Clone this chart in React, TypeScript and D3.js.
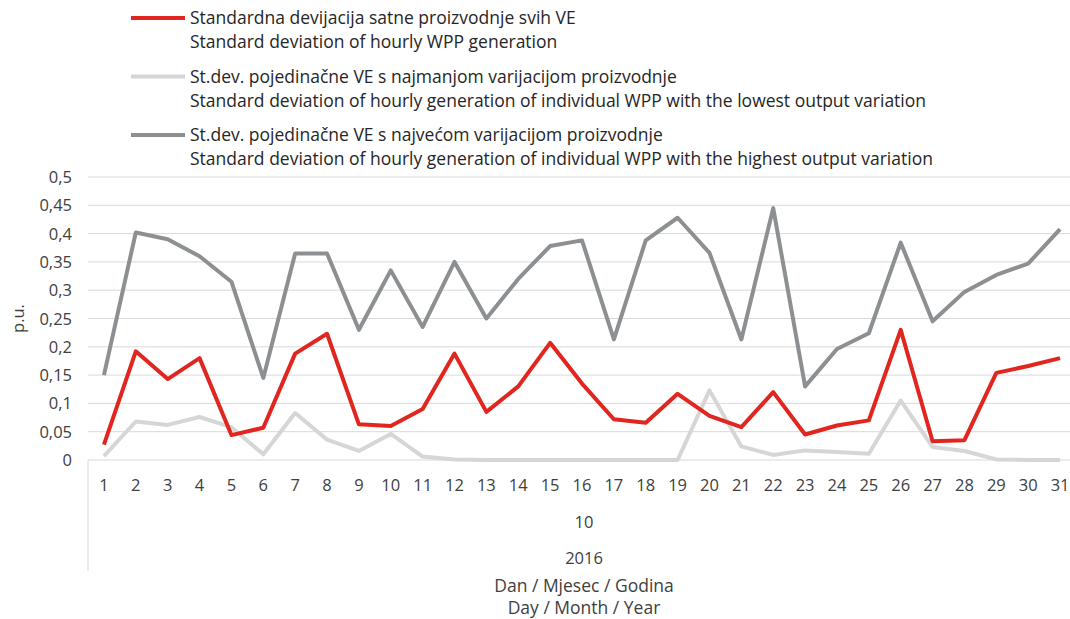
import React from "react";
import * as d3 from "d3";

const days = Array.from({ length: 31 }, (_, i) => String(i + 1));
const redSeries = [0.027, 0.192, 0.143, 0.18, 0.044, 0.057, 0.188, 0.223, 0.063, 0.06, 0.09, 0.188, 0.085, 0.13, 0.207, 0.135, 0.072, 0.066, 0.117, 0.078, 0.058, 0.12, 0.045, 0.061, 0.07, 0.23, 0.033, 0.035, 0.154, 0.166, 0.18];
const lowSeries = [0.007, 0.068, 0.062, 0.076, 0.058, 0.01, 0.083, 0.036, 0.016, 0.046, 0.006, 0.001, 0, 0, 0, 0, 0, 0, 0, 0.123, 0.024, 0.009, 0.017, 0.014, 0.011, 0.105, 0.023, 0.016, 0.001, 0, 0];
const highSeries = [0.15, 0.402, 0.39, 0.36, 0.315, 0.145, 0.365, 0.365, 0.23, 0.335, 0.235, 0.35, 0.25, 0.32, 0.378, 0.388, 0.213, 0.388, 0.428, 0.366, 0.213, 0.445, 0.13, 0.196, 0.224, 0.384, 0.245, 0.297, 0.327, 0.347, 0.408];
const yTicks = [0, 0.05, 0.1, 0.15, 0.2, 0.25, 0.3, 0.35, 0.4, 0.45, 0.5];
const legendItems = [
  { hr: "Standardna devijacija satne proizvodnje svih VE", en: "Standard deviation of hourly WPP generation", color: "#e0261f" },
  { hr: "St.dev. pojedinačne VE s najmanjom varijacijom proizvodnje", en: "Standard deviation of hourly generation of individual WPP with the lowest output variation", color: "#d5d6d6" },
  { hr: "St.dev. pojedinačne VE s najvećom varijacijom proizvodnje", en: "Standard deviation of hourly generation of individual WPP with the highest output variation", color: "#8d9092" },
];
const monthLabel = "10";
const yearLabel = "2016";
const axisTitle1 = "Dan / Mjesec / Godina";
const axisTitle2 = "Day / Month / Year";
const yTitle = "p.u.";

const W = 1070, H = 619;
const left = 88, right = 1076, top = 177, bottom = 460;
const font = "'Open Sans', sans-serif";

export default function App() {
  const x = d3.scaleBand<string>().domain(days).range([left, right]);
  const y = d3.scaleLinear().domain([0, 0.5]).range([bottom, top]);
  const line = d3.line<number>()
    .x((_, i) => (x(days[i]) as number) + x.bandwidth() / 2)
    .y((d) => y(d));
  const series = [
    { data: redSeries, color: legendItems[0].color },
    { data: lowSeries, color: legendItems[1].color },
    { data: highSeries, color: legendItems[2].color },
  ];
  const drawOrder = [1, 2, 0];
  return (
    <svg width={W} height={H} style={{ position: "absolute", left: 0, top: 0, fontFamily: font }}>
      <rect width={W} height={H} fill="#fff" />
      {yTicks.map((t) => (
        <g key={t}>
          <line x1={left} x2={W} y1={y(t)} y2={y(t)} stroke="#d9d9d9" strokeWidth={1} />
          <text x={72} y={y(t) + 6} textAnchor="end" fontSize={16.5} fill="#404040">
            {String(t).replace(".", ",")}
          </text>
        </g>
      ))}
      <line x1={left} x2={left} y1={bottom} y2={571} stroke="#d9d9d9" strokeWidth={1} />
      <text transform={`translate(24,${(top + bottom) / 2}) rotate(-90)`} textAnchor="middle" fontSize={16.5} fill="#404040">{yTitle}</text>
      {days.map((d) => (
        <text key={d} x={(x(d) as number) + x.bandwidth() / 2} y={491} textAnchor="middle" fontSize={16.5} fill="#404040">{d}</text>
      ))}
      <text x={584} y={528} textAnchor="middle" fontSize={16.5} fill="#404040">{monthLabel}</text>
      <text x={584} y={564} textAnchor="middle" fontSize={16.5} fill="#404040">{yearLabel}</text>
      <text x={584} y={592} textAnchor="middle" fontSize={17.5} fill="#404040">{axisTitle1}</text>
      <text x={584} y={614} textAnchor="middle" fontSize={17.5} fill="#404040">{axisTitle2}</text>
      {drawOrder.map((i) => (
        <path key={i} d={line(series[i].data) || ""} fill="none" stroke={series[i].color} strokeWidth={4} strokeLinejoin="round" />
      ))}
      {legendItems.map((it, i) => {
        const y0 = 18 + i * 58.5;
        return (
          <g key={i}>
            <line x1={131} x2={185} y1={y0} y2={y0} stroke={it.color} strokeWidth={4} />
            <text x={190} y={y0 + 6} fontSize={17.5} fill="#262626">{it.hr}</text>
            <text x={190} y={y0 + 30} fontSize={17.5} fill="#262626">{it.en}</text>
          </g>
        );
      })}
    </svg>
  );
}
